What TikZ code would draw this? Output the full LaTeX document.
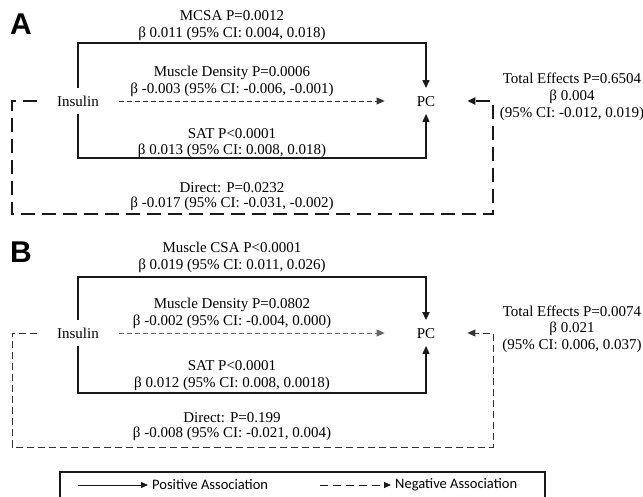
\documentclass[tikz,border=0pt]{standalone}
\usepackage{fontspec}
\setmainfont{Liberation Serif}
\newfontfamily\legfont{Carlito}
\newfontfamily\panelfont{Liberation Sans}
\usetikzlibrary{arrows.meta}
\begin{document}
\begin{tikzpicture}[x=1pt,y=-1pt,
  lbl/.style={align=center,font=\fontsize{15}{16.5}\selectfont,inner sep=0pt,text=black},
  tightlbl/.style={lbl,font=\fontsize{15}{15}\selectfont},
  widelbl/.style={lbl,font=\fontsize{15}{17}\selectfont},
  endpt/.style={font=\fontsize{15}{16.5}\selectfont,text height=10.5pt,text depth=0pt,inner ysep=7.5pt,text=black},
  panel/.style={font=\panelfont\bfseries\fontsize{30}{30}\selectfont,inner sep=0pt},
  tip/.style={-{Triangle[length=8pt,width=7pt]}},
  posline/.style={tip,line width=1.4pt,black!90},
  thickpos/.style={tip,line width=2.6pt,black!90},
  negline/.style={tip,line width=0.9pt,black!80,dash pattern=on 5pt off 3pt},
  directA/.style={tip,line width=2.7pt,black!90,dash pattern=on 14pt off 7pt},
  directB/.style={tip,line width=0.9pt,black!80,dash pattern=on 7pt off 4pt},
  legtext/.style={font=\legfont\fontsize{14.5}{16}\selectfont,inner sep=0pt,anchor=west},
  legtip/.style={-{Triangle[length=7pt,width=6pt]},line width=0.9pt,black!90}
]
\useasboundingbox (0,0) rectangle (643,497);

% ---------------- Panel A ----------------
\node[panel] (labA) at (21,24) {A};
\node[endpt,inner xsep=20pt] (insA) at (78,101) {Insulin};
\node[endpt,inner xsep=32pt] (pcA) at (426,101) {PC};
\coordinate (tA) at (250,43);
\coordinate (bA) at (250,158);
\coordinate (dlA) at (12,214);
\coordinate (drA) at (493,101);

\node[lbl] (mcsaA) at (232,25.5) {MCSA P=0.0012\\β 0.011 (95\% CI: 0.004, 0.018)};
\node[lbl] (densA) at (232,81.5) {Muscle Density P=0.0006\\β -0.003 (95\% CI: -0.006, -0.001)};
\node[lbl] (satA) at (232,143) {SAT P<0.0001\\β 0.013 (95\% CI: 0.008, 0.018)};
\node[tightlbl] (dirA) at (232,197) {Direct: P=0.0232\\β -0.017 (95\% CI: -0.031, -0.002)};
\node[widelbl] (totA) at (572,97) {Total Effects P=0.6504\\β 0.004\\(95\% CI: -0.012, 0.019)};

\draw[posline] (insA.north) |- (tA) -| (pcA.north);
\draw[posline] (insA.south) |- (bA) -| (pcA.south);
\draw[negline] (insA.east) -- (pcA.west);
\draw[directA] (insA.west) -| (dlA) -| (drA) -- (pcA.east);

% ---------------- Panel B ----------------
\node[panel] (labB) at (21,252) {B};
\node[endpt,inner xsep=20pt] (insB) at (78,333) {Insulin};
\node[endpt,inner xsep=32pt] (pcB) at (426,333) {PC};
\coordinate (tB) at (250,277);
\coordinate (bB) at (250,393);
\coordinate (dlB) at (12,447);
\coordinate (drB) at (493,333);

\node[lbl] (csaB) at (232,257.5) {Muscle CSA P<0.0001\\β 0.019 (95\% CI: 0.011, 0.026)};
\node[lbl] (densB) at (232,313.5) {Muscle Density P=0.0802\\β -0.002 (95\% CI: -0.004, 0.000)};
\node[lbl] (satB) at (232,375.5) {SAT P<0.0001\\β 0.012 (95\% CI: 0.008, 0.0018)};
\node[tightlbl] (dirB) at (232,427) {Direct: P=0.199\\β -0.008 (95\% CI: -0.021, 0.004)};
\node[lbl] (totB) at (572,329) {Total Effects P=0.0074\\β 0.021\\(95\% CI: 0.006, 0.037)};

\draw[thickpos] (insB.north) |- (tB) -| (pcB.north);
\draw[posline] (insB.south) |- (bB) -| (pcB.south);
\draw[negline,black!60] (insB.east) -- (pcB.west);
\draw[directB] (insB.west) -| (dlB) -| (drB) -- (pcB.east);

% ---------------- Legend ----------------
\draw[line width=1.1pt,black!90] (60,500) |- (545,472) -- (545,500);
\coordinate (ps) at (78,485);
\coordinate (ns) at (320,485);
\node[legtext] (postxt) at (152,485) {Positive Association};
\node[legtext] (negtxt) at (395,485) {Negative Association};
\draw[legtip] (ps) -- ([xshift=-4pt]postxt.west);
\draw[legtip,dash pattern=on 8pt off 5pt] (ns) -- ([xshift=-4pt]negtxt.west);
\end{tikzpicture}
\end{document}
